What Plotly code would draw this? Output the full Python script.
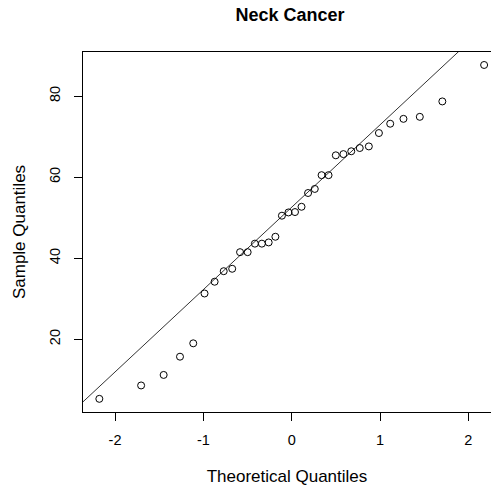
import plotly.graph_objects as go

# Theoretical normal quantiles (read from x positions)
theoretical = [-2.178, -1.705, -1.450, -1.265, -1.115, -0.987, -0.873, -0.770,
               -0.674, -0.585, -0.499, -0.417, -0.338, -0.261, -0.185, -0.111,
               -0.037, 0.037, 0.111, 0.185, 0.261, 0.338, 0.417, 0.499,
               0.585, 0.674, 0.770, 0.873, 0.987, 1.115, 1.265, 1.450,
               1.705, 2.178]
# Sample quantiles (read from y positions)
sample = [5.3, 8.6, 11.2, 15.7, 19.0, 31.3, 34.2, 36.8, 37.4, 41.5, 41.5,
          43.6, 43.6, 43.9, 45.3, 50.5, 51.3, 51.4, 52.7, 56.1, 57.1, 60.5,
          60.5, 65.4, 65.7, 66.4, 67.2, 67.6, 70.9, 73.2, 74.4, 74.9, 78.7, 87.7]

# Reference line (qqline)
line_intercept = 52.6
line_slope = 20.33
x_range = [-2.363, 2.256]
y_range = [2.05, 90.9]
x_ticks = [-2, -1, 0, 1, 2]
x_tick_labels = ["-2", "-1", "0", "1", "2"]
y_ticks = [20, 40, 60, 80]
y_tick_labels = ["20", "40", "60", "80"]

line_x = x_range
line_y = [line_intercept + line_slope * v for v in line_x]

FONT = "Liberation Sans, Arial, sans-serif"

fig = go.Figure()
fig.add_trace(go.Scatter(x=line_x, y=line_y, mode="lines",
                         line=dict(color="#333333", width=1),
                         hoverinfo="skip", showlegend=False))
fig.add_trace(go.Scatter(x=theoretical, y=sample, mode="markers",
                         marker=dict(symbol="circle-open", size=7,
                                     color="black", line=dict(width=1)),
                         showlegend=False))

fig.update_layout(
    width=491, height=491,
    margin=dict(l=83, r=0, t=52, b=79),
    paper_bgcolor="white", plot_bgcolor="white",
    font=dict(family=FONT, size=14.5, color="black"),
    title=dict(text="<b>Neck Cancer</b>", x=290/491, xref="container",
               xanchor="center", y=1 - 15/491, yref="container",
               yanchor="middle", font=dict(size=18, family=FONT, color="black")),
    xaxis=dict(range=x_range, tickvals=x_ticks, ticktext=x_tick_labels,
               ticks="outside", ticklen=8,
               tickcolor="black", showline=True, linecolor="black", linewidth=1,
               mirror=True, showgrid=False, zeroline=False,
               ticklabelstandoff=7,
               title=dict(text="Theoretical Quantiles", standoff=22)),
    yaxis=dict(range=y_range, tickvals=y_ticks, ticktext=y_tick_labels,
               ticks="outside", ticklen=8,
               tickcolor="black", showline=True, linecolor="black", linewidth=1,
               mirror=False, showgrid=False, zeroline=False, tickangle=-90,
               ticklabelstandoff=8,
               title=dict(text="Sample Quantiles", standoff=17)),
)

fig.write_html("out.html")
